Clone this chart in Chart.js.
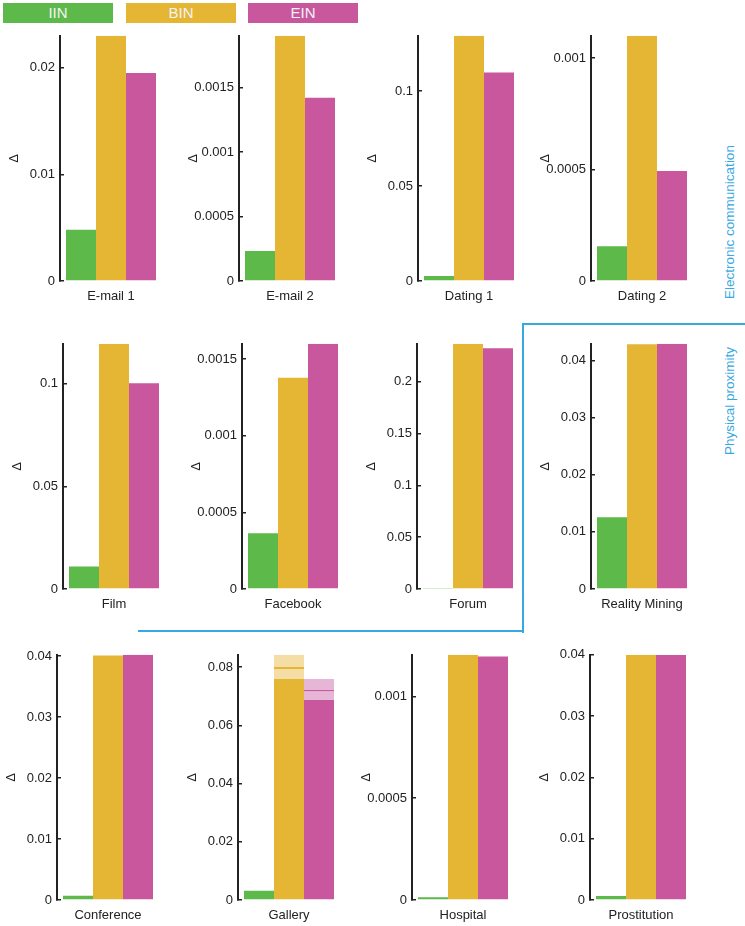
<!DOCTYPE html>
<html>
<head>
<meta charset="utf-8">
<script src="https://cdn.jsdelivr.net/npm/chart.js@4.4.0/dist/chart.umd.min.js"></script>
<style>
  body { margin: 0; background: #fff; font-family: 'Liberation Sans', Arial, sans-serif; }
  #wrap { position: relative; width: 745px; height: 926px; overflow: hidden; }
  #wrap canvas { position: absolute; }
  .key { position: absolute; top: 3px; width: 110px; height: 20px; line-height: 20px;
         text-align: center; color: #f4f4f4; font-size: 15px; }
  .blue { position: absolute; background: #36a9e1; }
  .group { position: absolute; width: 220px; height: 16px; line-height: 16px; text-align: center;
           color: #36a9e1; font-size: 13.5px; transform: rotate(-90deg); }
</style>
</head>
<body>
<div id="wrap">
  <div class="key" style="left:3px;background:#5db94a">IIN</div>
  <div class="key" style="left:126px;background:#e5b534">BIN</div>
  <div class="key" style="left:248px;background:#c8579e">EIN</div>

  <div class="blue" style="left:523px;top:323px;width:222px;height:2px"></div>
  <div class="blue" style="left:522px;top:323px;width:2px;height:310px"></div>
  <div class="blue" style="left:138px;top:630px;width:386px;height:2px"></div>

  <div class="group" style="left:620px;top:214px">Electronic communication</div>
  <div class="group" style="left:620px;top:393px">Physical proximity</div>
</div>
<script>
// Data
const categories = ['E-mail 1', 'E-mail 2', 'Dating 1', 'Dating 2', 'Film', 'Facebook',
  'Forum', 'Reality Mining', 'Conference', 'Gallery', 'Hospital', 'Prostitution'];
const iinValues = [0.0048, 0.000232, 0.0026, 0.000156, 0.011, 0.000363,
  0.001, 0.01256, 0.0007, 0.0032, 0.000013, 0.00065];
const binValues = [0.023, 0.0019, 0.129, 0.0011, 0.1195, 0.001378,
  0.2365, 0.0428, 0.0401, 0.080, 0.001204, 0.04];
const einValues = [0.0195, 0.00142, 0.1097, 0.000494, 0.1003, 0.0016,
  0.2323, 0.0429, 0.0402, 0.0723, 0.001196, 0.03995];
const yTicks = [
  [0, 0.01, 0.02],
  [0, 0.0005, 0.001, 0.0015],
  [0, 0.05, 0.1],
  [0, 0.0005, 0.001],
  [0, 0.05, 0.1],
  [0, 0.0005, 0.001, 0.0015],
  [0, 0.05, 0.1, 0.15, 0.2],
  [0, 0.01, 0.02, 0.03, 0.04],
  [0, 0.01, 0.02, 0.03, 0.04],
  [0, 0.02, 0.04, 0.06, 0.08],
  [0, 0.0005, 0.001],
  [0, 0.01, 0.02, 0.03, 0.04],
];
// interval shown on the Gallery panel
const intervalPanel = 'Gallery';
const binInterval = [0.0759, 0.0842];
const einInterval = [0.0687, 0.0759];

// Layout
const panelAxisX = [60, 239, 418, 591, 63, 242, 417, 591, 57, 238, 412, 590];
const rowAreaTop = [36, 343.5, 654.5];
const AREA_H = 245;
const AXIS_W = 57;
const AREA_W = 102;
const AREA_OFFSET = 17; // room chart.js keeps above the top tick label
const X_AXIS_H = 28;

const colors = { IIN: '#5db94a', BIN: '#e5b534', EIN: '#c8579e' };
const lightColors = { BIN: '#f5dea6', EIN: '#e6b6d6' };
const font = { family: "'Liberation Sans', Arial, sans-serif", size: 13 };

const wrap = document.getElementById('wrap');

categories.forEach((name, i) => {
  const canvas = document.createElement('canvas');
  canvas.width = AXIS_W + AREA_W;
  canvas.height = AREA_OFFSET + AREA_H + X_AXIS_H;
  canvas.style.left = (panelAxisX[i] - AXIS_W) + 'px';
  canvas.style.top = (rowAreaTop[Math.floor(i / 4)] - AREA_OFFSET) + 'px';
  wrap.appendChild(canvas);

  const hasInterval = name === intervalPanel;
  const datasets = [
    { label: 'IIN', data: [iinValues[i]], backgroundColor: colors.IIN, stack: 'IIN' },
    { label: 'BIN', data: [hasInterval ? binInterval[0] : binValues[i]], backgroundColor: colors.BIN, stack: 'BIN' },
    { label: 'EIN', data: [hasInterval ? einInterval[0] : einValues[i]], backgroundColor: colors.EIN, stack: 'EIN' },
  ];
  let top = Math.max(iinValues[i], binValues[i], einValues[i]);

  if (hasInterval) {
    [['BIN', binValues[i], binInterval], ['EIN', einValues[i], einInterval]].forEach(([key, mean, ci]) => {
      datasets.push({
        label: key + ' low', data: [mean - ci[0]], stack: key,
        backgroundColor: lightColors[key], borderColor: colors[key],
        borderWidth: { top: 2, right: 0, bottom: 0, left: 0 },
      });
      datasets.push({
        label: key + ' high', data: [ci[1] - mean], stack: key,
        backgroundColor: lightColors[key],
      });
    });
    top = Math.max(top, binInterval[1], einInterval[1]);
  }

  new Chart(canvas, {
    type: 'bar',
    data: { labels: [name], datasets },
    options: {
      responsive: false,
      animation: false,
      devicePixelRatio: 1,
      layout: { padding: 0 },
      datasets: { bar: { categoryPercentage: 90 / AREA_W, barPercentage: 1 } },
      plugins: { legend: { display: false }, tooltip: { enabled: false } },
      scales: {
        x: {
          stacked: true,
          grid: { display: false, drawTicks: false },
          border: { display: false },
          ticks: { color: '#222', font, padding: 8 },
          afterFit: s => { s.height = X_AXIS_H; },
        },
        y: {
          stacked: true,
          min: 0,
          max: top,
          grid: { drawOnChartArea: false, tickLength: -4, color: '#222', lineWidth: 1.5 },
          border: { color: '#222', width: 2 },
          ticks: { color: '#222', font, padding: 9, callback: v => String(v) },
          title: { display: true, text: 'Δ', color: '#222', font },
          afterBuildTicks: s => { s.ticks = yTicks[i].map(v => ({ value: v })); },
          afterFit: s => { s.width = AXIS_W; },
        },
      },
    },
  });
});
</script>
</body>
</html>
